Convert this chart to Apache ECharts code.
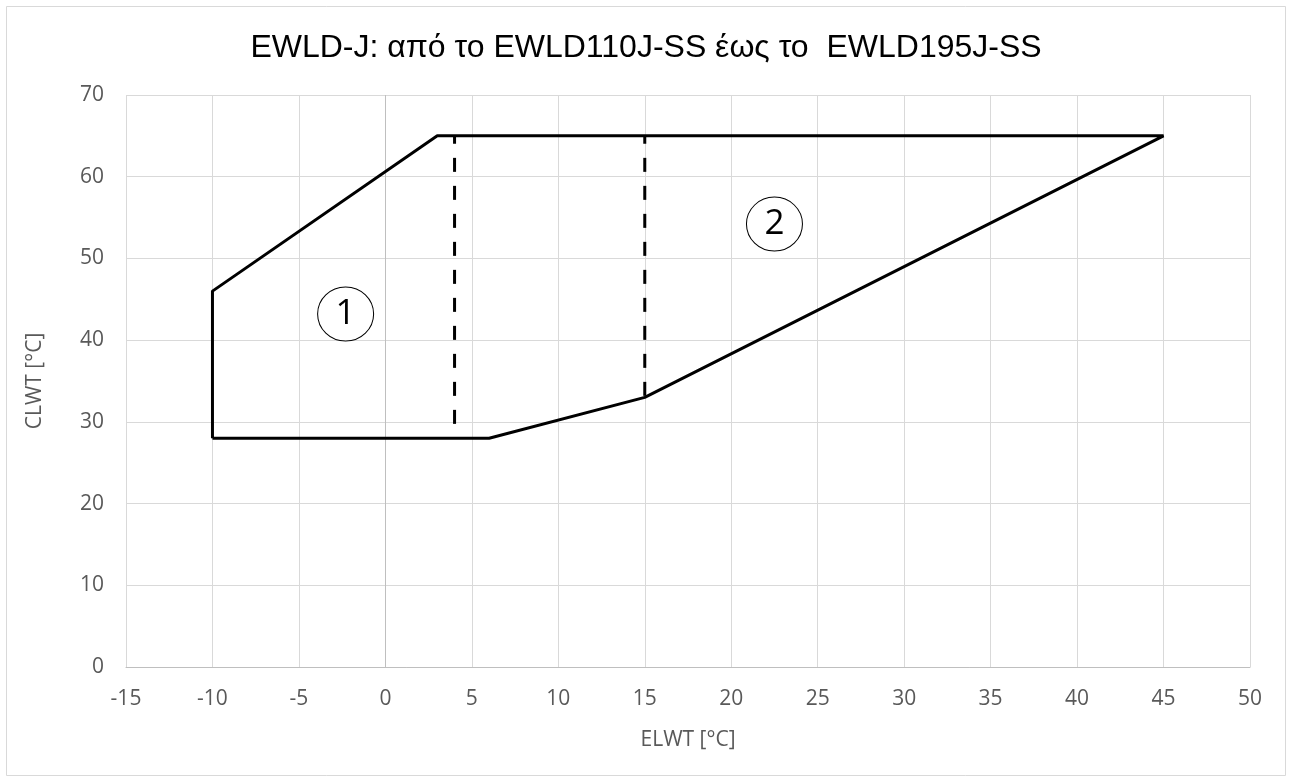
<!DOCTYPE html>
<html>
<head>
<meta charset="utf-8">
<script src="https://cdn.jsdelivr.net/npm/echarts@6/dist/echarts.min.js"></script>
<style>html,body{margin:0;padding:0;background:#fff}#c{width:1292px;height:782px}</style>
</head>
<body>
<div id="c"></div>
<script>
const titleText = 'EWLD-J: από το EWLD110J-SS έως το  EWLD195J-SS';
const xName = 'ELWT [°C]';
const yName = 'CLWT [°C]';
const envelope = [[-10,28],[-10,46],[3,65],[45,65],[15,33],[6,28],[-10,28]];
const dashA = [[4,65],[4,28]];
const dashB = [[15,65],[15,33]];
const zoneLabels = [[-2.3,43.2,'1'],[22.5,54.2,'2']];

const chart = echarts.init(document.getElementById('c'), null, {renderer:'canvas'});
const tickFont = {fontFamily:'Open Sans, Liberation Sans, sans-serif', fontSize:21, color:'#595959'};
chart.setOption({
  animation:false,
  backgroundColor:'#fff',
  title:{text:titleText,left:'center',top:27,textStyle:{fontFamily:'Liberation Sans, Arial, sans-serif',fontSize:32,fontWeight:'normal',color:'#000'}},
  graphic:[{type:'rect',shape:{x:6.5,y:6.5,width:1279,height:769},style:{fill:'none',stroke:'#d9d9d9',lineWidth:1},silent:true,z:-1}],
  grid:{left:126,right:42,top:95,bottom:115},
  xAxis:{type:'value',min:-15,max:50,interval:5,name:xName,nameLocation:'middle',nameGap:63,
    nameTextStyle:tickFont,
    axisLabel:Object.assign({margin:22},tickFont),
    axisLine:{show:true,onZero:false,lineStyle:{color:'#bfbfbf',width:1}},
    axisTick:{show:false},
    splitLine:{show:true,lineStyle:{color:'#d9d9d9',width:1}}},
  yAxis:{type:'value',min:0,max:70,interval:10,name:yName,nameLocation:'middle',nameGap:80,nameRotate:90,
    nameTextStyle:tickFont,
    axisLabel:Object.assign({margin:22},tickFont),
    axisLine:{show:false},
    axisTick:{show:false},
    splitLine:{show:true,lineStyle:{color:'#d9d9d9',width:1}}},
  series:[
    {type:'line',data:envelope,symbol:'none',lineStyle:{color:'#000',width:3},z:5,
      markLine:{silent:true,symbol:'none',label:{show:false},lineStyle:{color:'#bfbfbf',width:1,type:'solid'},data:[{xAxis:0}],z:1}},
    {type:'line',data:dashA,symbol:'none',lineStyle:{color:'#000',width:3,type:[14,14],dashOffset:6},z:5},
    {type:'line',data:dashB,symbol:'none',lineStyle:{color:'#000',width:3,type:[14,14],dashOffset:6},z:5},
    {type:'scatter',data:zoneLabels.map(d=>({value:[d[0],d[1]],name:d[2]})),symbol:'circle',symbolSize:[56,54],
      itemStyle:{color:'#fff',borderColor:'#000',borderWidth:1,opacity:1},z:6,
      label:{show:true,position:'inside',formatter:p=>p.name,fontFamily:'Open Sans, Liberation Sans, sans-serif',fontSize:35,color:'#000'}}
  ]
});
</script>
</body>
</html>
